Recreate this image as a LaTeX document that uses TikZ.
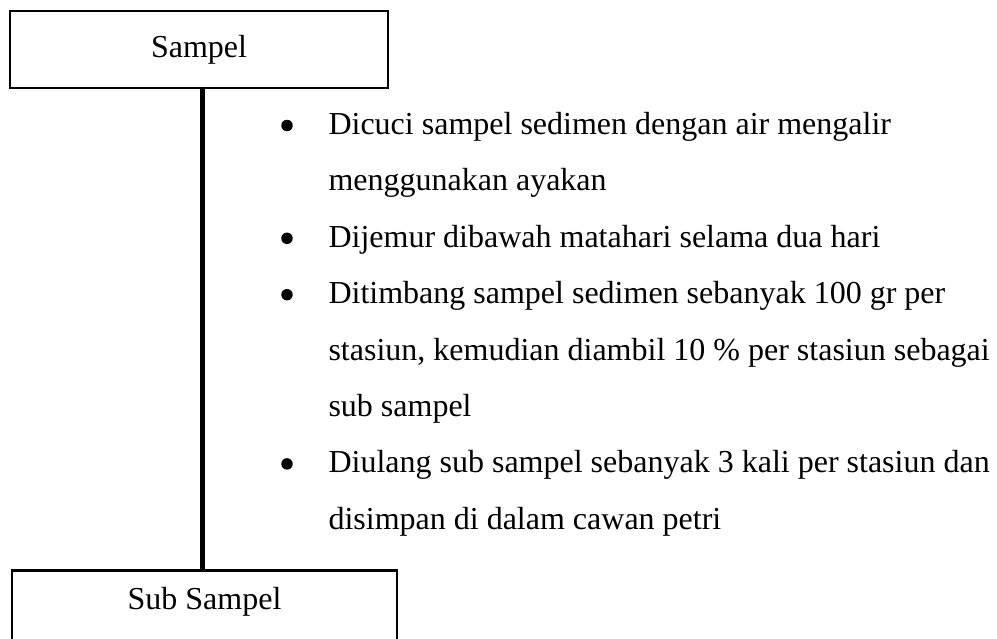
\documentclass[tikz,border=0pt]{standalone}
\usepackage{fontspec}
\setmainfont{Liberation Serif}
\begin{document}
\begin{tikzpicture}[x=0.375pt,y=-0.375pt,
  boxstyle/.style={draw,line width=1pt,inner sep=0pt,font=\fontsize{12pt}{14pt}\selectfont},
  txt/.style={anchor=base west,inner sep=0pt,font=\fontsize{12pt}{14pt}\selectfont},
  dot/.style={circle,fill=black,inner sep=0pt,minimum size=4.3pt},
  stem/.style={line width=1.9pt}]
\useasboundingbox (0,0) rectangle (997,639);
\fill[white] (0,0) rectangle (997,639);
\node[boxstyle,minimum width=378*0.375pt,minimum height=77*0.375pt] (sampel) at (199,49.5) {Sampel};
\node[boxstyle,anchor=north,minimum width=385*0.375pt,minimum height=110*0.375pt] (subbox) at (204.5,569) {};
\node[inner sep=0pt,font=\fontsize{12pt}{14pt}\selectfont] (sub) at (204.5,601.5) {Sub Sampel};
\draw[stem] (sampel.south -| 202.5,0) coordinate (s1) -- (s1 |- subbox.north) coordinate (s2);
% bullets
\node[dot] (b1) at (287,125.5) {};
\node[dot] (b2) at (287,238.3) {};
\node[dot] (b3) at (287,294.7) {};
\node[dot] (b4) at (287,463.9) {};
% lines
\node[txt] (l1) at (328,134.5) {Dicuci sampel sedimen dengan air mengalir};
\node[txt] (l2) at (328,190.9) {menggunakan ayakan};
\node[txt] (l3) at (328,247.3) {Dijemur dibawah matahari selama dua hari};
\node[txt] (l4) at (328,303.7) {Ditimbang sampel sedimen sebanyak 100 gr per};
\node[txt] (l5) at (328,360.1) {stasiun, kemudian diambil 10 \% per stasiun sebagai};
\node[txt] (l6) at (328,416.5) {sub sampel};
\node[txt] (l7) at (328,472.9) {Diulang sub sampel sebanyak 3 kali per stasiun dan};
\node[txt] (l8) at (328,529.3) {disimpan di dalam cawan petri};
\end{tikzpicture}
\end{document}
